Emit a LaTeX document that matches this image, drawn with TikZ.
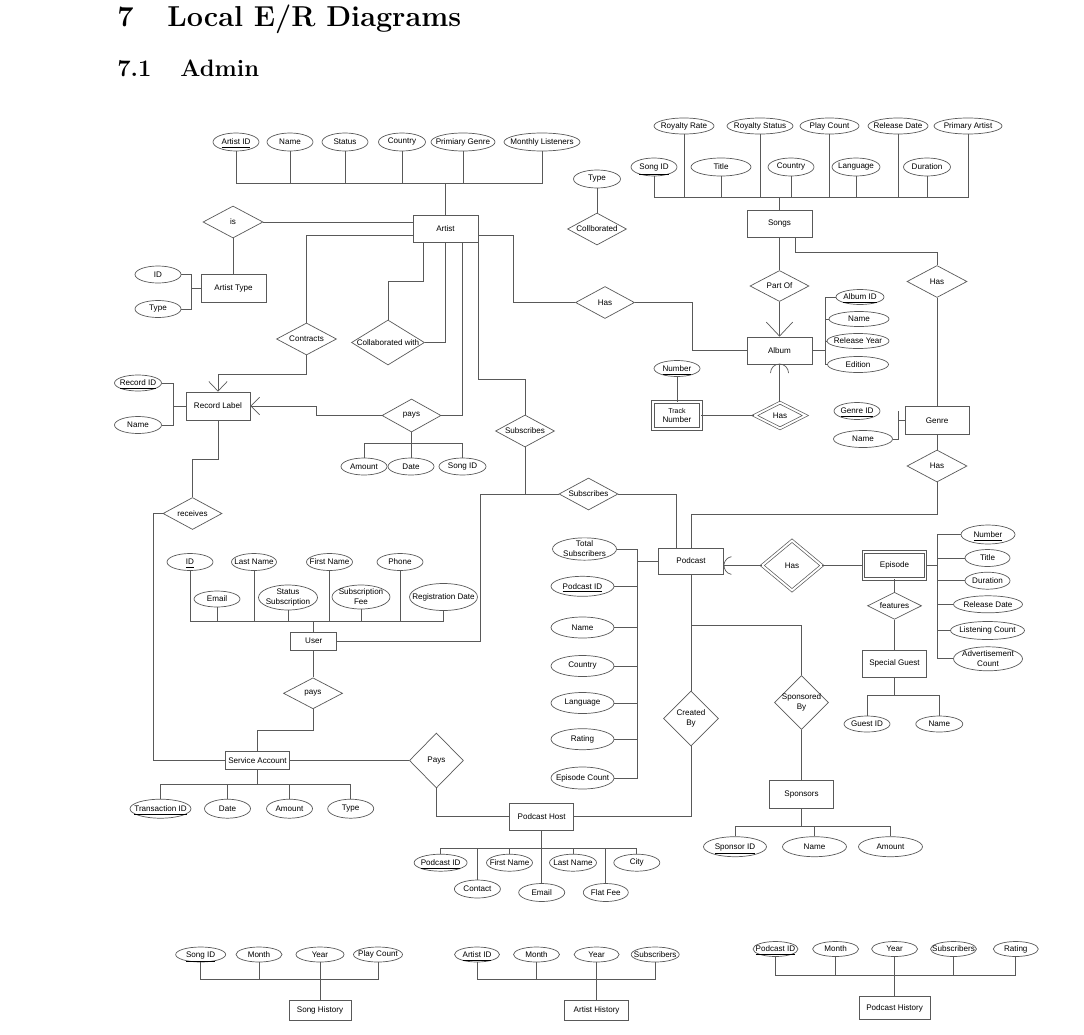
\documentclass[tikz,border=0pt]{standalone}
\usepackage{fontspec}
\newfontfamily\erfont{Liberation Sans}
\usetikzlibrary{shapes.geometric,arrows.meta}
\newlength\px
\setlength\px{0.02cm}
\newcommand{\ertext}[1]{\makebox[0pt]{#1}}
\newcommand{\key}[1]{\raisebox{0pt}[\height][0pt]{\underline{#1}}}

\begin{document}
\begin{tikzpicture}[x=0.02cm, y=-0.02cm, line width=0.4pt, color=black!65,
	entity/.style={draw, rectangle, minimum width=64\px, minimum height=27\px, inner sep=0pt, align=center, text=black, font=\erfont\fontsize{4.6}{5.6}\selectfont},
	weak/.style={entity, double, double distance=1.1pt},
	attr/.style={draw, ellipse, minimum width=46\px, minimum height=17\px, inner sep=0pt, align=center, text=black, font=\erfont\fontsize{4.6}{5.6}\selectfont},
	rel/.style={draw, diamond, minimum width=59\px, minimum height=32\px, inner sep=0pt, align=center, text=black, font=\erfont\fontsize{4.6}{5.6}\selectfont},
	weakrel/.style={rel, double, double distance=1.1pt},
	many/.style={-{Straight Barb[length=5.5pt, width=10.5pt]}}]
	\useasboundingbox (0,0) rectangle (1084,1034);

	\node[anchor=base west, inner sep=0pt, text=black, font=\fontsize{16.4}{20}\bfseries\selectfont] (secnum) at (117,27) {7};
	\node[anchor=base west, inner sep=0pt, text=black, font=\fontsize{16.4}{20}\bfseries\selectfont] (sectitle) at (167,27) {Local E/R Diagrams};
	\node[anchor=base west, inner sep=0pt, text=black, font=\fontsize{13.5}{16}\bfseries\selectfont] (subsecnum) at (117,76) {7.1};
	\node[anchor=base west, inner sep=0pt, text=black, font=\fontsize{13.5}{16}\bfseries\selectfont] (subsectitle) at (180,76) {Admin};

	\node[entity, minimum width=65\px] (artist) at (445.5,228.5) {Artist};
	\node[attr, minimum height=18\px] (artistid) at (236,142) {\ertext{\key{Artist ID}}};
	\node[attr, minimum height=18\px] (aname) at (290,142) {\ertext{Name}};
	\node[attr, minimum height=18\px] (astatus) at (345,142) {\ertext{Status}};
	\node[attr, minimum width=47\px, minimum height=18\px] (acountry) at (402,142) {\ertext{Country}};
	\node[attr, minimum width=64\px, minimum height=18\px] (agenre) at (463,142) {\ertext{Primiary Genre}};
	\node[attr, minimum width=76\px, minimum height=18\px] (alisteners) at (542,142) {\ertext{Monthly Listeners}};
	\draw (artistid.south) -- (artistid.south |- 0,183) -- (alisteners.south |- 0,183) -- (alisteners.south)
		(aname.south) -- (aname.south |- 0,183) (astatus.south) -- (astatus.south |- 0,183)
		(acountry.south) -- (acountry.south |- 0,183) (agenre.south) -- (agenre.south |- 0,183)
		(artist.north) -- (artist.north |- 0,183);

	\node[rel, minimum width=60\px] (isrel) at (233,222) {\ertext{is}};
	\node[entity, minimum width=65\px, minimum height=28\px] (artisttype) at (233.5,288) {Artist Type};
	\node[attr] (atid) at (158,274.5) {\ertext{ID}};
	\node[attr] (attype) at (158,309) {\ertext{Type}};
	\draw (isrel.east) -- (isrel.east -| artist.west);
	\draw (isrel.south) -- (isrel.south |- artisttype.north);
	\draw (atid.east) -| (191,309) -- (attype.east);
	\draw (191,288) -- (artisttype.west);

	\node[rel, minimum width=60\px] (contracts) at (306.5,339) {\ertext{Contracts}};
	\node[entity, minimum height=28\px] (recordlabel) at (218,406) {Record Label};
	\node[attr, minimum width=47\px, minimum height=16\px] (recordid) at (138,383) {\ertext{\key{Record ID}}};
	\node[attr, minimum width=47\px] (rlname) at (138,425) {\ertext{Name}};
	\draw (artist.west |- 0,235) -| (contracts.north);
	\draw[many] (contracts.south) |- (recordlabel.north |- 0,374) -- (recordlabel.north);
	\draw (recordid.east) -| (173,425) -- (rlname.east);
	\draw (173,406) -- (recordlabel.west);

	\node[rel, minimum width=73\px, minimum height=45\px] (collab) at (388,342.5) {\ertext{Collaborated with}};
	\draw (artist.south -| 423,0) |- (collab.north |- 0,281) -- (collab.north);
	\draw (artist.south -| 445,0) |- (collab.east);

	\node[rel, minimum height=33\px] (arpays) at (411.5,415.5) {\ertext{pays}};
	\node[attr] (pamount) at (364,466.5) {\ertext{Amount}};
	\node[attr] (pdate) at (411,466.5) {\ertext{Date}};
	\node[attr, minimum width=47\px] (psongid) at (462.5,466.5) {\ertext{Song ID}};
	\draw (artist.south -| 462,0) |- (arpays.east);
	\draw[-{Straight Barb[length=5pt, width=10pt]}] (arpays.west) -- (316,415.5) |- (recordlabel.east);
	\draw (arpays.south) -- (arpays.south |- 0,443)
		(pamount.north) -- (pamount.north |- 0,443) -- (psongid.north |- 0,443) -- (psongid.north)
		(pdate.north) -- (pdate.north |- 0,443);

	\node[rel] (subart) at (525,431) {\ertext{Subscribes}};
	\node[rel] (subpod) at (588.5,494) {\ertext{Subscribes}};
	\draw (artist.south east) |- (subart.north |- 0,379) -- (subart.north);
	\draw (subart.south) -- (subart.south |- subpod.west);

	\node[entity, minimum width=65\px, minimum height=26\px] (podcast) at (691,561) {Podcast};
	\draw (subpod.east) -| (podcast.north -| 676,0);

	\node[entity, minimum width=65\px] (songs) at (779.5,223.5) {Songs};
	\node[attr, minimum width=60\px, minimum height=16\px] (royrate) at (684,126) {\ertext{Royalty Rate}};
	\node[attr, minimum width=66\px, minimum height=16\px] (roystatus) at (760,126) {\ertext{Royalty Status}};
	\node[attr, minimum width=59\px, minimum height=16\px] (playcount) at (829.5,126) {\ertext{Play Count}};
	\node[attr, minimum width=60\px, minimum height=16\px] (reldate) at (898,126) {\ertext{Release Date}};
	\node[attr, minimum width=68\px, minimum height=16\px] (primartist) at (968,126) {\ertext{Primary Artist}};
	\node[attr, minimum height=18\px] (songid) at (654,167) {\ertext{\key{Song ID}}};
	\node[attr, minimum width=60\px, minimum height=18\px] (stitle) at (721,167) {\ertext{Title}};
	\node[attr, minimum height=18\px] (scountry) at (791,167) {\ertext{Country}};
	\node[attr, minimum width=48\px, minimum height=18\px] (slanguage) at (856,167) {\ertext{Language}};
	\node[attr, minimum width=47\px, minimum height=18\px] (sduration) at (927,167) {\ertext{Duration}};
	\draw (songid.south) -- (songid.south |- 0,197) -- (primartist.south |- 0,197) -- (primartist.south)
		(royrate.south) -- (royrate.south |- 0,197) (roystatus.south) -- (roystatus.south |- 0,197)
		(playcount.south) -- (playcount.south |- 0,197) (reldate.south) -- (reldate.south |- 0,197)
		(stitle.south) -- (stitle.south |- 0,197) (scountry.south) -- (scountry.south |- 0,197)
		(slanguage.south) -- (slanguage.south |- 0,197) (sduration.south) -- (sduration.south |- 0,197)
		(songs.north) -- (songs.north |- 0,197);

	\node[rel, minimum height=31\px] (partof) at (779.5,286) {\ertext{Part Of}};
	\node[entity, minimum width=65\px] (album) at (779.5,350.5) {Album};
	\draw (songs.south) -- (partof.north);
	\draw[-{Straight Barb[length=8pt, width=15pt]}] (partof.south) -- (album.north);

	\node[rel, minimum width=60\px] (songhas) at (937,281.5) {\ertext{Has}};
	\node[entity, minimum height=28\px] (genre) at (937,420.5) {Genre};
	\node[rel, minimum width=60\px] (genrehas) at (937,466) {\ertext{Has}};
	\node[attr] (genreid) at (857,411) {\ertext{\key{Genre ID}}};
	\node[attr, minimum width=59\px] (gname) at (863,439) {\ertext{Name}};
	\draw (songs.south -| 795,0) |- (songhas.north |- 0,252) -- (songhas.north);
	\draw (songhas.south) -- (genre.north);
	\draw (genre.south) -- (genrehas.north);
	\draw (898,411) |- (gname.east);
	\draw (898,420.5) -- (genre.west);
	\draw (podcast.north) |- (genrehas.south |- 0,514) -- (genrehas.south);

	\node[rel] (albumhas) at (605,302.5) {\ertext{Has}};
	\draw (artist.east |- 0,235) -| (513,302.5) -- (albumhas.west);
	\draw (albumhas.east) -| (692,350.5) -- (album.west);

	\node[attr, minimum width=48\px, minimum height=15\px] (albumid) at (860,297) {\ertext{\key{Album ID}}};
	\node[attr, minimum width=60\px, minimum height=15\px] (alname) at (859,319) {\ertext{Name}};
	\node[attr, minimum width=62\px, minimum height=15\px] (relyear) at (858,341) {\ertext{Release Year}};
	\node[attr, minimum width=61\px, minimum height=16\px] (edition) at (858,364.5) {\ertext{Edition}};
	\draw (albumid.west) -- (825,297) |- (edition.west);
	\draw (825,319) -- (alname.west);
	\draw (825,341) -- (relyear.west);
	\draw (album.east) -- (album.east -| 825,0);

	\node[weakrel, minimum width=51\px, minimum height=26\px] (trackhas) at (780,415.5) {\ertext{Has}};
	\node[weak, minimum width=48\px, minimum height=27\px] (tracknum) at (677,415.5) {{\fontsize{4}{4.6}\selectfont Track}\\Number};
	\node[attr, minimum height=16\px] (tnumber) at (677,368.5) {\ertext{\key{Number}}};
	\draw (album.south) -- (album.south |- trackhas.north);
	\draw (770.5,373) arc[start angle=180, end angle=360, radius=9];
	\draw (tracknum.east) -- (trackhas.west);
	\draw (tnumber.south) -- (tracknum.north);

	\node[attr, minimum width=47\px, minimum height=18\px] (ctype) at (597,179) {\ertext{Type}};
	\node[rel] (collbor) at (597,229) {\ertext{Collborated}};
	\draw (ctype.south) -- (collbor.north);

	\node[rel] (receives) at (192.5,513.5) {\ertext{receives}};
	\node[entity, minimum height=18\px] (service) at (257.5,760.5) {Service Account};
	\draw (recordlabel.south) |- (receives.north |- 0,459) -- (receives.north);
	\draw (receives.west) -| (153.5,760.5) -- (service.west);

	\node[entity, minimum width=46\px, minimum height=18\px] (user) at (313.7,641) {User};
	\node[attr] (uid) at (190,562) {\ertext{\key{ID}}};
	\node[attr, minimum width=45\px] (ulast) at (254,562) {\ertext{Last Name}};
	\node[attr] (ufirst) at (329.5,562) {\ertext{First Name}};
	\node[attr] (uphone) at (400,562) {\ertext{Phone}};
	\node[attr, minimum height=16\px] (uemail) at (217,599) {\ertext{Email}};
	\node[attr, minimum width=59\px, minimum height=25\px] (ustatus) at (288,597.5) {\ertext{Status}\\\ertext{Subscription}};
	\node[attr, minimum width=58\px, minimum height=24\px] (ufee) at (361,597) {\ertext{Subscription}\\\ertext{Fee}};
	\node[attr, minimum width=68\px, minimum height=27\px] (uregdate) at (443.5,597) {\ertext{Registration Date}};
	\draw (uid.south) -- (uid.south |- 0,621) -- (uregdate.south |- 0,621) -- (uregdate.south)
		(ulast.south) -- (ulast.south |- 0,621) (ufirst.south) -- (ufirst.south |- 0,621)
		(uphone.south) -- (uphone.south |- 0,621) (uemail.south) -- (uemail.south |- 0,621)
		(ustatus.south) -- (ustatus.south |- 0,621) (ufee.south) -- (ufee.south |- 0,621)
		(user.north) -- (user.north |- 0,621);
	\draw (user.east) -| (480,494) -- (subpod.west);

	\node[rel, minimum height=31\px] (upays) at (313,693.3) {\ertext{pays}};
	\draw (user.south) -- (user.south |- upays.north);
	\draw (upays.south) |- (service.north |- 0,730) -- (service.north);

	\node[attr, minimum width=61\px, minimum height=19\px] (transid) at (160.5,808.7) {\ertext{\key{Transaction ID}}};
	\node[attr, minimum height=19\px] (sdate) at (227.5,808.7) {\ertext{Date}};
	\node[attr, minimum height=19\px] (samount) at (289.5,808.7) {\ertext{Amount}};
	\node[attr, minimum height=19\px] (stype) at (350.7,808.7) {\ertext{Type}};
	\draw (transid.north) -- (transid.north |- 0,784) -- (stype.north |- 0,784) -- (stype.north)
		(sdate.north) -- (sdate.north |- 0,784) (samount.north) -- (samount.north |- 0,784)
		(service.south) -- (service.south |- 0,784);

	\node[rel, minimum width=54\px, minimum height=55\px] (payshost) at (436.4,760.5) {\ertext{Pays}};
	\node[entity] (host) at (541.7,816.7) {Podcast Host};
	\draw (service.east) -- (payshost.west);
	\draw (payshost.south) |- (host.west);

	\node[attr, minimum width=53\px] (hpodid) at (440.6,862.7) {\ertext{\key{Podcast ID}}};
	\node[attr] (hfirst) at (509.5,862.7) {\ertext{First Name}};
	\node[attr, minimum width=47\px] (hlast) at (573,862.7) {\ertext{Last Name}};
	\node[attr] (hcity) at (636.8,862.7) {\ertext{City}};
	\node[attr, minimum height=18\px] (hcontact) at (477.4,889) {\ertext{Contact}};
	\node[attr, minimum height=18\px] (hemail) at (541.7,892.5) {\ertext{Email}};
	\node[attr, minimum width=45\px, minimum height=18\px] (hflat) at (605.8,892.5) {\ertext{Flat Fee}};
	\draw (host.south) -- (hemail.north)
		(hpodid.north) -- (hpodid.north |- 0,848) -- (hcity.north |- 0,848) -- (hcity.north)
		(hfirst.north) -- (hfirst.north |- 0,848) (hlast.north) -- (hlast.north |- 0,848)
		(hcontact.north) -- (hcontact.north |- 0,848) (hflat.north) -- (hflat.north |- 0,848);

	\node[rel, minimum width=55\px, minimum height=55\px] (createdby) at (691,718.5) {\ertext{Created}\\\ertext{By}};
	\node[rel, minimum width=54\px, minimum height=54\px] (sponsoredby) at (801.5,702.5) {\ertext{Sponsored}\\\ertext{By}};
	\node[entity, minimum height=28\px] (sponsors) at (801.5,794.5) {Sponsors};
	\draw (podcast.south) -- (createdby.north);
	\draw (host.east) -| (createdby.south);
	\draw (podcast.south |- 0,625) -| (sponsoredby.north);
	\draw (sponsoredby.south) -- (sponsors.north);

	\node[attr, minimum width=63\px, minimum height=20\px] (sponsorid) at (735,846.7) {\ertext{\key{Sponsor ID}}};
	\node[attr, minimum width=64\px, minimum height=20\px] (spname) at (814.5,846.7) {\ertext{Name}};
	\node[attr, minimum width=64\px, minimum height=20\px] (spamount) at (890.5,846.7) {\ertext{Amount}};
	\draw (sponsorid.north) -- (sponsorid.north |- 0,826.7) -- (spamount.north |- 0,826.7) -- (spamount.north)
		(spname.north) -- (spname.north |- 0,826.7)
		(sponsors.south) -- (sponsors.south |- 0,826.7);

	\node[attr, minimum width=64\px, minimum height=21\px] (totalsubs) at (584.5,549) {\ertext{Total}\\\ertext{Subscribers}};
	\node[attr, minimum width=63\px, minimum height=20\px] (podid) at (582.5,586.3) {\ertext{\key{Podcast ID}}};
	\node[attr, minimum width=63\px, minimum height=21\px] (pname) at (582.5,627.5) {\ertext{Name}};
	\node[attr, minimum width=63\px, minimum height=21\px] (pcountry) at (582.5,666) {\ertext{Country}};
	\node[attr, minimum width=63\px, minimum height=21\px] (planguage) at (582.5,703) {\ertext{Language}};
	\node[attr, minimum width=63\px, minimum height=21\px] (prating) at (582.5,739.2) {\ertext{Rating}};
	\node[attr, minimum width=63\px, minimum height=22\px] (epcount) at (582.5,778) {\ertext{Episode Count}};
	\draw (totalsubs.east) -| (637,778) -- (epcount.east)
		(podid.east) -- (podid.east -| 637,0) (pname.east) -- (pname.east -| 637,0)
		(pcountry.east) -- (pcountry.east -| 637,0) (planguage.east) -- (planguage.east -| 637,0)
		(prating.east) -- (prating.east -| 637,0);
	\draw (637,561) -- (podcast.west);

	\node[weakrel, minimum width=60\px, minimum height=50\px] (podhas) at (792,565.5) {\ertext{Has}};
	\node[weak, minimum width=62\px, minimum height=27\px] (episode) at (894.5,565.5) {Episode};
	\draw (podhas.west) -- (podhas.west -| podcast.east);
	\draw (731.4,574.4) arc[start angle=100, end angle=260, radius=9];
	\draw (podhas.east) -- (episode.west);

	\node[attr, minimum width=54\px, minimum height=19\px] (epnumber) at (988,534.5) {\ertext{\key{Number}}};
	\node[attr, minimum width=45\px] (eptitle) at (987.5,558) {\ertext{Title}};
	\node[attr, minimum width=45\px] (epduration) at (987.5,580.7) {\ertext{Duration}};
	\node[attr, minimum width=69\px] (epreldate) at (988,604.3) {\ertext{Release Date}};
	\node[attr, minimum width=74\px, minimum height=18\px] (eplisten) at (987.5,630.5) {\ertext{Listening Count}};
	\node[attr, minimum width=69\px, minimum height=24\px] (epadvert) at (988,658.8) {\ertext{Advertisement}\\\ertext{Count}};
	\draw (epnumber.west) -| (937,658.8) -- (epadvert.west)
		(eptitle.west) -- (eptitle.west -| 937,0) (epduration.west) -- (epduration.west -| 937,0)
		(epreldate.west) -- (epreldate.west -| 937,0) (eplisten.west) -- (eplisten.west -| 937,0);
	\draw (episode.east) -- (episode.east -| 937,0);

	\node[rel, minimum width=54\px, minimum height=27\px] (features) at (894.5,605.8) {\ertext{features}};
	\node[entity] (guest) at (894.5,663.7) {Special Guest};
	\node[attr, minimum height=16\px] (guestid) at (867,724) {\ertext{Guest ID}};
	\node[attr, minimum width=47\px, minimum height=16\px] (gsname) at (939.3,724) {\ertext{Name}};
	\draw (episode.south) -- (features.north);
	\draw (features.south) -- (guest.north);
	\draw (guestid.north) -- (guestid.north |- 0,695.7) -- (gsname.north |- 0,695.7) -- (gsname.north)
		(guest.south) -- (guest.south |- 0,695.7);

	\node[entity, minimum width=62\px, minimum height=20\px] (songhist) at (320,1010) {Song History};
	\node[attr, minimum width=50\px, minimum height=15\px] (shsongid) at (200.7,954.5) {\ertext{\key{Song ID}}};
	\node[attr, minimum height=15\px] (shmonth) at (259,954.5) {\ertext{Month}};
	\node[attr, minimum width=48\px, minimum height=15\px] (shyear) at (320,954.5) {\ertext{Year}};
	\node[attr, minimum width=49\px, minimum height=15\px] (shplay) at (378,954.5) {\ertext{Play Count}};
	\draw (shsongid.south) -- (shsongid.south |- 0,979.3) -- (shplay.south |- 0,979.3) -- (shplay.south)
		(shmonth.south) -- (shmonth.south |- 0,979.3)
		(shyear.south) -- (songhist.north);

	\node[entity, minimum width=64\px, minimum height=20\px] (artisthist) at (596.6,1010) {Artist History};
	\node[attr, minimum width=45\px, minimum height=15\px] (ahid) at (477,954.5) {\ertext{\key{Artist ID}}};
	\node[attr, minimum height=15\px] (ahmonth) at (536.5,954.5) {\ertext{Month}};
	\node[attr, minimum width=45\px, minimum height=15\px] (ahyear) at (596.6,954.5) {\ertext{Year}};
	\node[attr, minimum width=48\px, minimum height=15\px] (ahsubs) at (655.2,954.5) {\ertext{Subscribers}};
	\draw (ahid.south) -- (ahid.south |- 0,979.3) -- (ahsubs.south |- 0,979.3) -- (ahsubs.south)
		(ahmonth.south) -- (ahmonth.south |- 0,979.3)
		(ahyear.south) -- (artisthist.north);

	\node[entity, minimum width=71\px, minimum height=23\px] (podhist) at (894.6,1008) {Podcast History};
	\node[attr, minimum width=45\px, minimum height=15\px] (phid) at (775.5,949) {\ertext{\key{Podcast ID}}};
	\node[attr, minimum height=15\px] (phmonth) at (835.6,949) {\ertext{Month}};
	\node[attr, minimum height=15\px] (phyear) at (894.6,949) {\ertext{Year}};
	\node[attr, minimum height=15\px] (phsubs) at (953.5,949) {\ertext{Subscribers}};
	\node[attr, minimum width=45\px, minimum height=15\px] (phrating) at (1015.8,949) {\ertext{Rating}};
	\draw (phid.south) -- (phid.south |- 0,975) -- (phrating.south |- 0,975) -- (phrating.south)
		(phmonth.south) -- (phmonth.south |- 0,975) (phsubs.south) -- (phsubs.south |- 0,975)
		(phyear.south) -- (podhist.north);
\end{tikzpicture}
\end{document}
